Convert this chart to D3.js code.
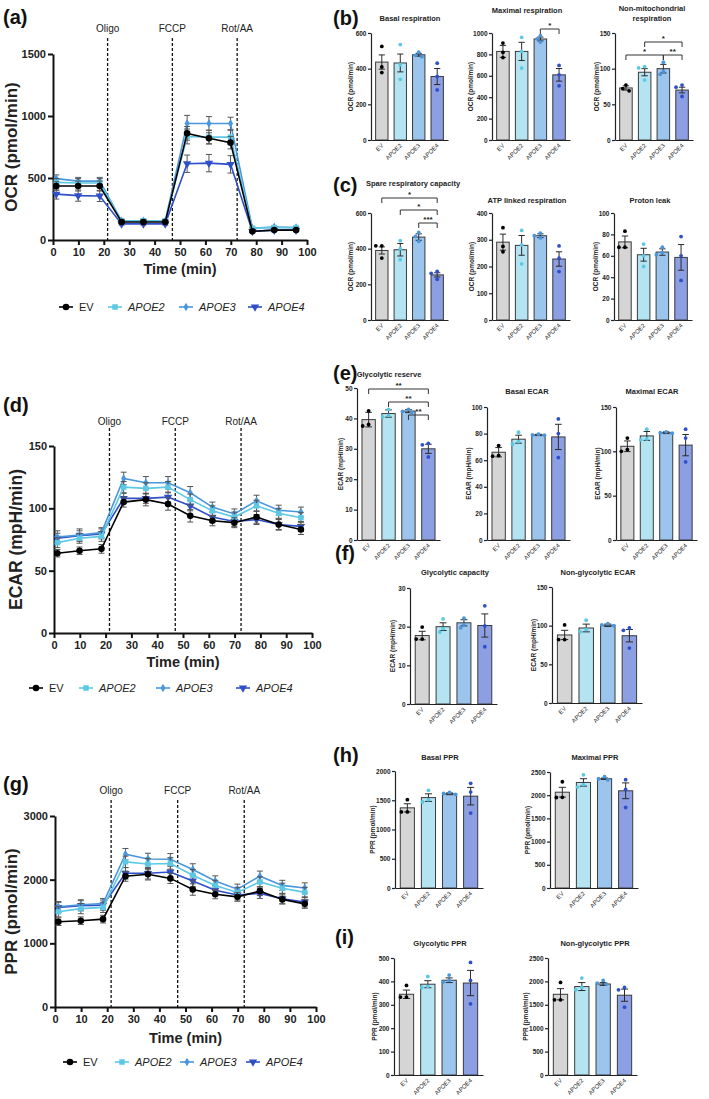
<!DOCTYPE html>
<html>
<head>
<meta charset="utf-8">
<script src="https://cdn.jsdelivr.net/npm/d3@7"></script>
<style>
  body { margin: 0; background: #fff; }
  svg { display: block; font-family: "Liberation Sans", Arial, sans-serif; }
</style>
</head>
<body>
<svg id="fig" width="709" height="1099"></svg>
<script>
// ---- data ----
const groups = ["EV", "APOE2", "APOE3", "APOE4"];
const timeMin = [1.3, 9.9, 18.4, 27.0, 35.6, 44.2, 52.8, 61.4, 69.9, 78.5, 87.1, 95.7];
const injections = ["Oligo", "FCCP", "Rot/AA"];
const injectionTimes = [21.5, 47, 72.5];

// (a) OCR time course
const ocrEV    = [435, 435, 435, 145, 145, 145, 860, 820, 785, 70, 80, 80];
const ocrAPOE2 = [465, 460, 460, 155, 155, 155, 835, 830, 830, 95, 100, 100];
const ocrAPOE3 = [495, 475, 475, 155, 155, 155, 940, 940, 940, 95, 105, 100];
const ocrAPOE4 = [370, 358, 355, 130, 130, 130, 615, 620, 610, 70, 80, 80];
const ocrErrEV    = [35, 40, 40, 12, 12, 12, 55, 45, 50, 8, 8, 8];
const ocrErrAPOE2 = [30, 35, 35, 12, 12, 12, 60, 55, 55, 8, 8, 8];
const ocrErrAPOE3 = [30, 30, 30, 10, 10, 10, 65, 55, 50, 8, 8, 8];
const ocrErrAPOE4 = [40, 45, 45, 10, 10, 10, 70, 70, 70, 8, 8, 8];

// (d) ECAR time course
const ecarEV    = [64, 66, 67.5, 105, 107, 103.5, 94, 90, 88.5, 93, 87, 83];
const ecarAPOE2 = [72.5, 76, 77.5, 117, 116, 117, 107, 98, 93, 102, 96, 92.5];
const ecarAPOE3 = [77, 78.5, 80.5, 124, 120.5, 120.5, 112.5, 101, 95.5, 106, 98.5, 97];
const ecarAPOE4 = [76, 78, 79.5, 108, 108, 109, 102, 93, 89.5, 91, 87, 85.5];
const ecarErrEV    = [3, 3, 3.5, 4, 5, 5, 5, 4, 4, 5, 4.5, 4];
const ecarErrAPOE2 = [4, 4, 4, 4.5, 4.5, 4.5, 4.5, 4, 4, 4.5, 4, 4];
const ecarErrAPOE3 = [5, 5, 4, 5, 5, 5, 5, 4, 4, 4.5, 4, 4];
const ecarErrAPOE4 = [4, 4, 4, 4, 4, 4, 4, 4, 4, 4, 4, 4];

// (g) PPR time course
const pprEV    = [1340, 1355, 1380, 2055, 2085, 2020, 1845, 1770, 1730, 1820, 1690, 1620];
const pprAPOE2 = [1495, 1545, 1565, 2280, 2245, 2255, 2070, 1910, 1800, 1965, 1865, 1800];
const pprAPOE3 = [1575, 1605, 1625, 2400, 2325, 2320, 2160, 1980, 1850, 2055, 1910, 1870];
const pprAPOE4 = [1565, 1590, 1600, 2100, 2100, 2120, 1980, 1835, 1760, 1785, 1700, 1650];
const pprErrEV    = [60, 60, 60, 80, 90, 80, 90, 70, 70, 70, 70, 70];
const pprErrAPOE2 = [80, 80, 80, 90, 90, 90, 90, 80, 80, 80, 80, 80];
const pprErrAPOE3 = [80, 80, 80, 90, 90, 90, 90, 80, 80, 80, 80, 80];
const pprErrAPOE4 = [80, 80, 80, 90, 90, 90, 90, 80, 80, 80, 80, 80];

// bar panels: mean, SEM, individual replicates
const basalRespMean = [437, 432, 478, 356];
const basalRespSem  = [40, 50, 8, 45];
const basalRespPts  = [[525, 410, 378], [535, 422, 340], [492, 475, 467], [431, 356, 281]];

const maxRespMean = [828, 828, 944, 609];
const maxRespSem  = [56, 85, 18, 59];
const maxRespPts  = [[906, 819, 770], [960, 828, 672], [975, 945, 915], [697, 609, 506]];
const maxRespSig  = [[2, 3, "*"]];

const nonMitoMean = [73, 95, 100, 70];
const nonMitoSem  = [3, 5, 6, 4];
const nonMitoPts  = [[77, 72, 69], [103, 101, 84], [109, 96, 92], [77, 74, 61]];
const nonMitoSig  = [[1, 3, "*"], [0, 2, "*"], [2, 3, "**"]];

const spareMean = [390, 394, 465, 253];
const spareSem  = [20, 35, 18, 12];
const sparePts  = [[416, 416, 347], [445, 400, 338], [491, 469, 441], [272, 262, 228]];
const spareSig  = [[0, 3, "*"], [1, 3, "*"], [2, 3, "***"]];

const atpMean = [291, 279, 315, 228];
const atpSem  = [30, 37, 7, 27];
const atpPts  = [[345, 275, 255], [335, 281, 210], [325, 315, 307], [277, 231, 181]];

const protonMean = [73, 61, 63.5, 58.5];
const protonSem  = [5.5, 6, 3, 12];
const protonPts  = [[83, 68, 68], [71, 60, 50], [68, 63, 61], [78, 60, 37]];

const glycResMean = [39.6, 41.6, 42.4, 30];
const glycResSem  = [2.4, 1.2, 0.5, 1.5];
const glycResPts  = [[42.5, 38, 37.5], [43, 41, 40.5], [43, 42.3, 42], [31.8, 31.3, 27.3]];
const glycResSig  = [[0, 3, "**"], [1, 3, "**"], [2, 3, "**"]];

const basalEcarMean = [66, 75.8, 79, 77.5];
const basalEcarSem  = [3.5, 3, 0.5, 9.5];
const basalEcarPts  = [[71, 63.5, 63], [81, 74, 72], [79.5, 79, 78.8], [91, 80, 62]];

const maxEcarMean = [105.7, 117.4, 121, 107];
const maxEcarSem  = [6, 5, 1, 12];
const maxEcarPts  = [[115, 102, 100], [125, 114, 113], [122, 121, 120.5], [125, 115, 88]];

const glycCapMean = [17.7, 20, 21, 20.3];
const glycCapSem  = [1.1, 1, 0.8, 3];
const glycCapPts  = [[19.9, 16.8, 16.8], [22, 19.5, 18.6], [22.2, 20.5, 19.7], [25.4, 20.2, 14.8]];

const nonGlycEcarMean = [88, 97, 100.5, 87];
const nonGlycEcarSem  = [6, 5, 1.5, 8];
const nonGlycEcarPts  = [[101, 82, 82], [107, 95, 92], [102.6, 101, 100], [97, 94, 71]];

const basalPprMean = [1370, 1545, 1610, 1570];
const basalPprSem  = [70, 65, 15, 150];
const basalPprPts  = [[1510, 1300, 1300], [1670, 1510, 1470], [1635, 1615, 1600], [1790, 1640, 1280]];

const maxPprMean = [2065, 2275, 2355, 2095];
const maxPprSem  = [105, 80, 15, 170];
const maxPprPts  = [[2290, 1955, 1950], [2440, 2230, 2175], [2400, 2355, 2330], [2335, 2125, 1735]];

const glycPprMean = [345, 388, 405, 393];
const glycPprSem  = [18, 15, 10, 54];
const glycPprPts  = [[383, 333, 333], [421, 379, 374], [427, 404, 397], [481, 404, 304]];

const nonGlycPprMean = [1725, 1890, 1945, 1705];
const nonGlycPprSem  = [120, 85, 30, 130];
const nonGlycPprPts  = [[1979, 1607, 1607], [2071, 1871, 1821], [2021, 1964, 1943], [1871, 1821, 1450]];

// ---- styles ----
const lineColors = ["#000000", "#5cc8e4", "#4a96dc", "#2f4fc8"];
const barColors  = ["#d5d5d5", "#b4e4f1", "#9cc5ee", "#8c9fe2"];
const markers = [d3.symbolCircle, d3.symbolSquare, d3.symbolDiamond, d3.symbolTriangle];
const markerSize = [34, 30, 22, 30];

const svg = d3.select("#fig");

function panelLetter(txt, x, y) {
  svg.append("text").attr("x", x).attr("y", y)
    .attr("font-size", 20).attr("font-weight", "bold").attr("fill", "#111")
    .text(txt);
}

function marker(g, i, cx, cy) {
  g.append("path")
    .attr("d", d3.symbol().type(markers[i]).size(markerSize[i])())
    .attr("transform", `translate(${cx},${cy})` + (i === 3 ? " rotate(180)" : ""))
    .attr("fill", lineColors[i]);
}

function lineChart(cfg, means, errs) {
  const x = d3.scaleLinear().domain([0, 100]).range([cfg.x0, cfg.x1]);
  const y = d3.scaleLinear().domain([0, cfg.ymax]).range([cfg.y0, cfg.yTop]);
  const g = svg.append("g");

  // injection markers
  injectionTimes.forEach((t, i) => {
    g.append("line")
      .attr("x1", x(t)).attr("x2", x(t))
      .attr("y1", cfg.dashTop).attr("y2", cfg.y0)
      .attr("stroke", "#111").attr("stroke-width", 1.3)
      .attr("stroke-dasharray", "3,2");
    g.append("text")
      .attr("x", x(t)).attr("y", cfg.labY)
      .attr("text-anchor", "middle").attr("font-size", 10).attr("fill", "#222")
      .text(injections[i]);
  });

  // axes
  const ax = g.append("g")
    .attr("transform", `translate(0,${cfg.y0})`)
    .call(d3.axisBottom(x).tickValues(d3.range(0, 101, 10)).tickSize(5).tickSizeOuter(0).tickPadding(3));
  const ay = g.append("g")
    .attr("transform", `translate(${cfg.x0},0)`)
    .call(d3.axisLeft(y).tickValues(d3.range(0, cfg.ymax + 1, cfg.step)).tickFormat(d3.format("d"))
      .tickSize(5).tickSizeOuter(0).tickPadding(2));
  [ax, ay].forEach(a => {
    a.select(".domain").attr("stroke", "#111").attr("stroke-width", 2);
    a.selectAll(".tick line").attr("stroke", "#111").attr("stroke-width", 2);
    a.selectAll("text").attr("font-size", 11).attr("font-weight", "bold")
      .attr("fill", "#222").attr("font-family", "Liberation Sans");
  });

  g.append("text")
    .attr("x", (cfg.x0 + cfg.x1) / 2).attr("y", cfg.timeY)
    .attr("text-anchor", "middle").attr("font-size", 14.5).attr("font-weight", "bold").attr("fill", "#222")
    .text("Time (min)");
  g.append("text")
    .attr("transform", `translate(${cfg.ylabX},${(cfg.y0 + cfg.yTop) / 2}) rotate(-90)`)
    .attr("text-anchor", "middle").attr("font-size", cfg.ylabSize).attr("font-weight", "bold").attr("fill", "#222")
    .text(cfg.ylab);

  // series, EV drawn last so it sits on top
  const line = d3.line().x((d, k) => x(timeMin[k])).y(d => y(d));
  [3, 2, 1, 0].forEach(i => {
    const s = g.append("g");
    means[i].forEach((m, k) => {
      const cx = x(timeMin[k]);
      const lo = y(m - errs[i][k]), hi = y(m + errs[i][k]);
      s.append("line").attr("x1", cx).attr("x2", cx).attr("y1", lo).attr("y2", hi)
        .attr("stroke", "#555").attr("stroke-width", 1);
      [lo, hi].forEach(v => s.append("line")
        .attr("x1", cx - 3).attr("x2", cx + 3).attr("y1", v).attr("y2", v)
        .attr("stroke", "#555").attr("stroke-width", 1));
    });
    s.append("path").datum(means[i]).attr("d", line)
      .attr("fill", "none").attr("stroke", lineColors[i]).attr("stroke-width", 1.6);
    means[i].forEach((m, k) => marker(s, i, x(timeMin[k]), y(m)));
  });

  // legend
  const lg = g.append("g");
  groups.forEach((name, i) => {
    const cx = cfg.legendX[i];
    lg.append("line").attr("x1", cx - 7).attr("x2", cx + 7)
      .attr("y1", cfg.legendY).attr("y2", cfg.legendY)
      .attr("stroke", lineColors[i]).attr("stroke-width", 1.6);
    marker(lg, i, cx, cfg.legendY);
    lg.append("text").attr("x", cx + 13).attr("y", cfg.legendY + 4)
      .attr("font-size", 11).attr("fill", "#222")
      .attr("font-style", i === 0 ? "normal" : "italic")
      .text(name);
  });
}

function barChart(cfg, mean, sem, pts, sig) {
  const x = d3.scaleBand().domain(groups).range([cfg.x0, cfg.x1]).paddingInner(0.33).paddingOuter(0.25);
  const y = d3.scaleLinear().domain([0, cfg.ymax]).range([cfg.y0, cfg.yTop]);
  const g = svg.append("g");
  const bw = x.bandwidth();

  // bars
  groups.forEach((name, i) => {
    g.append("rect")
      .attr("x", x(name)).attr("y", y(mean[i]))
      .attr("width", bw).attr("height", cfg.y0 - y(mean[i]))
      .attr("fill", barColors[i]).attr("stroke", "#3a3a3a").attr("stroke-width", 1);
  });

  // error bars
  groups.forEach((name, i) => {
    const cx = x(name) + bw / 2;
    const lo = y(mean[i] - sem[i]), hi = y(mean[i] + sem[i]);
    g.append("line").attr("x1", cx).attr("x2", cx).attr("y1", lo).attr("y2", hi)
      .attr("stroke", "#2a2a2a").attr("stroke-width", 1);
    [lo, hi].forEach(v => g.append("line")
      .attr("x1", cx - bw * 0.25).attr("x2", cx + bw * 0.25).attr("y1", v).attr("y2", v)
      .attr("stroke", "#2a2a2a").attr("stroke-width", 1));
  });

  // replicate dots, nudged sideways where they would overlap
  groups.forEach((name, i) => {
    const cx = x(name) + bw / 2;
    const placed = [];
    pts[i].forEach(v => {
      const py = y(v);
      const offs = [0, -3.2, 3.2, -6, 6];
      let px = cx;
      for (const o of offs) {
        if (placed.every(p => Math.hypot(p[0] - (cx + o), p[1] - py) >= 4.2)) { px = cx + o; break; }
      }
      placed.push([px, py]);
      g.append("circle").attr("cx", px).attr("cy", py).attr("r", 1.9).attr("fill", lineColors[i]);
    });
  });

  // axes
  const ay = g.append("g")
    .attr("transform", `translate(${cfg.x0},0)`)
    .call(d3.axisLeft(y).tickValues(d3.range(0, cfg.ymax + 1e-9, cfg.step)).tickFormat(d3.format("d"))
      .tickSize(3).tickSizeOuter(0).tickPadding(1.5));
  const ax = g.append("g")
    .attr("transform", `translate(0,${cfg.y0})`)
    .call(d3.axisBottom(x).tickSize(0).tickSizeOuter(0));
  ax.selectAll("text").remove();
  [ax, ay].forEach(a => {
    a.select(".domain").attr("stroke", "#222").attr("stroke-width", 1.2);
    a.selectAll(".tick line").attr("stroke", "#222").attr("stroke-width", 1.2);
  });
  ay.selectAll("text").attr("font-size", 6.5).attr("font-weight", "bold").attr("fill", "#222");
  groups.forEach(name => {
    const cx = x(name) + bw / 2 + 2;
    g.append("text")
      .attr("transform", `translate(${cx},${cfg.y0 + 6}) rotate(-45)`)
      .attr("text-anchor", "end").attr("font-size", 6).attr("fill", "#222")
      .text(name);
  });

  // titles
  cfg.title.forEach((t, k) => {
    g.append("text").attr("x", cfg.titleX).attr("y", cfg.titleY + k * 10)
      .attr("text-anchor", "middle").attr("font-size", 7.5).attr("font-weight", "bold").attr("fill", "#222")
      .text(t);
  });
  g.append("text")
    .attr("transform", `translate(${cfg.x0 - cfg.ylabOff},${(cfg.y0 + cfg.yTop) / 2}) rotate(-90)`)
    .attr("text-anchor", "middle").attr("font-size", 6.5).attr("font-weight", "bold").attr("fill", "#222")
    .text(cfg.ylab);

  // significance brackets
  (sig || []).forEach((s, k) => {
    const x1 = x(groups[s[0]]) + bw / 2, x2 = x(groups[s[1]]) + bw / 2;
    const ly = cfg.sigY[k];
    g.append("path")
      .attr("d", `M${x1},${ly + 5}V${ly}H${x2}V${ly + 5}`)
      .attr("fill", "none").attr("stroke", "#333").attr("stroke-width", 1);
    g.append("text").attr("x", (x1 + x2) / 2).attr("y", ly - 1.5)
      .attr("text-anchor", "middle").attr("font-size", 8).attr("font-weight", "bold").attr("fill", "#222")
      .text(s[2]);
  });
}

// ---- panel letters ----
panelLetter("(a)", 3, 24);
panelLetter("(b)", 333, 25);
panelLetter("(c)", 333, 192);
panelLetter("(d)", 3, 412);
panelLetter("(e)", 333, 380);
panelLetter("(f)", 335, 560);
panelLetter("(g)", 3, 791);
panelLetter("(h)", 333, 762);
panelLetter("(i)", 335, 944);

// ---- line charts ----
lineChart({ x0: 53, x1: 307, y0: 240, yTop: 54, ymax: 1500, step: 500, dashTop: 38, labY: 32,
  ylab: "OCR (pmol/min)", ylabX: 17, ylabSize: 17, timeY: 274, legendY: 307, legendX: [66, 115, 186, 255] },
  [ocrEV, ocrAPOE2, ocrAPOE3, ocrAPOE4], [ocrErrEV, ocrErrAPOE2, ocrErrAPOE3, ocrErrAPOE4]);

lineChart({ x0: 54, x1: 312, y0: 633, yTop: 446, ymax: 150, step: 50, dashTop: 428, labY: 425,
  ylab: "ECAR (mpH/min)", ylabX: 22, ylabSize: 17.5, timeY: 667, legendY: 688, legendX: [36, 86, 163, 243] },
  [ecarEV, ecarAPOE2, ecarAPOE3, ecarAPOE4], [ecarErrEV, ecarErrAPOE2, ecarErrAPOE3, ecarErrAPOE4]);

lineChart({ x0: 55, x1: 316, y0: 1007, yTop: 816, ymax: 3000, step: 1000, dashTop: 800, labY: 794,
  ylab: "PPR (pmol/min)", ylabX: 17, ylabSize: 17, timeY: 1043, legendY: 1062, legendX: [70, 122, 187, 253] },
  [pprEV, pprAPOE2, pprAPOE3, pprAPOE4], [pprErrEV, pprErrAPOE2, pprErrAPOE3, pprErrAPOE4]);

// ---- bar charts ----
const ocrLab = "OCR (pmol/min)", ecarLab = "ECAR (mpH/min)", pprLab = "PPR (pmol/min)";
barChart({ x0: 371, x1: 448, y0: 140, yTop: 33, ymax: 600, step: 200, title: ["Basal respiration"], titleX: 410, titleY: 21, ylab: ocrLab, ylabOff: 18 },
  basalRespMean, basalRespSem, basalRespPts);
barChart({ x0: 492, x1: 570, y0: 140, yTop: 33, ymax: 1000, step: 200, title: ["Maximal respiration"], titleX: 527, titleY: 13, ylab: ocrLab, ylabOff: 19, sigY: [29] },
  maxRespMean, maxRespSem, maxRespPts, maxRespSig);
barChart({ x0: 615, x1: 693, y0: 140, yTop: 33, ymax: 150, step: 50, title: ["Non-mitochondrial", "respiration"], titleX: 652, titleY: 11, ylab: ocrLab, ylabOff: 16, sigY: [42, 55, 55] },
  nonMitoMean, nonMitoSem, nonMitoPts, nonMitoSig);

barChart({ x0: 371, x1: 448, y0: 320, yTop: 213, ymax: 600, step: 200, title: ["Spare respiratory capacity"], titleX: 413, titleY: 186, ylab: ocrLab, ylabOff: 18, sigY: [198, 210, 223] },
  spareMean, spareSem, sparePts, spareSig);
barChart({ x0: 492, x1: 570, y0: 320, yTop: 213, ymax: 400, step: 100, title: ["ATP linked respiration"], titleX: 527, titleY: 203, ylab: ocrLab, ylabOff: 18 },
  atpMean, atpSem, atpPts);
barChart({ x0: 614, x1: 692, y0: 320, yTop: 213, ymax: 100, step: 20, title: ["Proton leak"], titleX: 650, titleY: 203, ylab: ocrLab, ylabOff: 16 },
  protonMean, protonSem, protonPts);

barChart({ x0: 357, x1: 440, y0: 540, yTop: 388, ymax: 50, step: 10, title: ["Glycolytic reserve"], titleX: 389, titleY: 377, ylab: ecarLab, ylabOff: 14, sigY: [389, 402, 415] },
  glycResMean, glycResSem, glycResPts, glycResSig);
barChart({ x0: 487, x1: 570, y0: 540, yTop: 407, ymax: 100, step: 20, title: ["Basal ECAR"], titleX: 527, titleY: 394, ylab: ecarLab, ylabOff: 16 },
  basalEcarMean, basalEcarSem, basalEcarPts);
barChart({ x0: 616, x1: 697, y0: 540, yTop: 407, ymax: 150, step: 50, title: ["Maximal ECAR"], titleX: 652, titleY: 394, ylab: ecarLab, ylabOff: 16 },
  maxEcarMean, maxEcarSem, maxEcarPts);

barChart({ x0: 410, x1: 497, y0: 704, yTop: 588, ymax: 30, step: 10, title: ["Glycolytic capacity"], titleX: 455, titleY: 575, ylab: ecarLab, ylabOff: 15 },
  glycCapMean, glycCapSem, glycCapPts);
barChart({ x0: 552, x1: 642, y0: 703, yTop: 587, ymax: 150, step: 50, title: ["Non-glycolytic ECAR"], titleX: 598, titleY: 575, ylab: ecarLab, ylabOff: 16 },
  nonGlycEcarMean, nonGlycEcarSem, nonGlycEcarPts);

barChart({ x0: 395, x1: 483, y0: 888, yTop: 771, ymax: 2000, step: 500, title: ["Basal PPR"], titleX: 440, titleY: 760, ylab: pprLab, ylabOff: 20 },
  basalPprMean, basalPprSem, basalPprPts);
barChart({ x0: 550, x1: 638, y0: 888, yTop: 772, ymax: 2500, step: 500, title: ["Maximal PPR"], titleX: 595, titleY: 760, ylab: pprLab, ylabOff: 20 },
  maxPprMean, maxPprSem, maxPprPts);

barChart({ x0: 394, x1: 483, y0: 1075, yTop: 958, ymax: 500, step: 100, title: ["Glycolytic PPR"], titleX: 440, titleY: 946, ylab: pprLab, ylabOff: 17 },
  glycPprMean, glycPprSem, glycPprPts);
barChart({ x0: 548, x1: 637, y0: 1075, yTop: 958, ymax: 2500, step: 500, title: ["Non-glycolytic PPR"], titleX: 595, titleY: 946, ylab: pprLab, ylabOff: 20 },
  nonGlycPprMean, nonGlycPprSem, nonGlycPprPts);
</script>
</body>
</html>
